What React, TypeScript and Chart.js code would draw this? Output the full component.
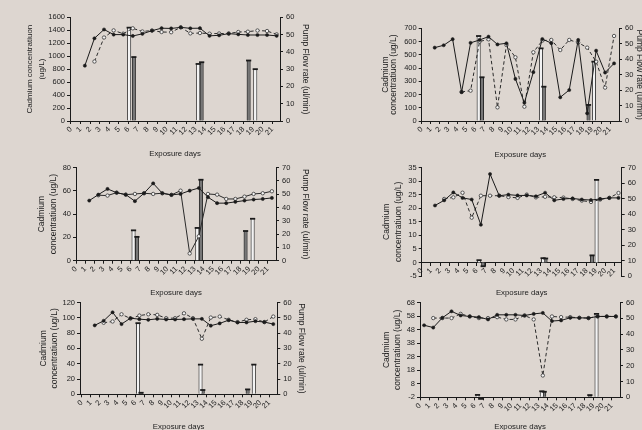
import React, { useEffect, useRef } from "react";
import { Chart, registerables } from "chart.js";
Chart.register(...registerables);

const FONT = "'Liberation Sans', Arial, Helvetica, sans-serif";
const INK = "#1a1a1a";
const TEXT = "#222222";
const BG = "rgb(221,214,208)";
const X_OFF = 0.45;

// ---------- shared labels / ticks ----------
const dayTicks = [0, 1, 2, 3, 4, 5, 6, 7, 8, 9, 10, 11, 12, 13, 14, 15, 16, 17, 18, 19, 20, 21];
const xTitle = "Exposure days";
const pumpTitle = "Pump Flow rate (ul/min)";
const cadTitleA = ["Cadmium concentratiuon", "(ug/L)"];
const cadTitleB = ["Cadmium", "concentratiuon (ug/L)"];

const p1LeftTicks = [0, 200, 400, 600, 800, 1000, 1200, 1400, 1600];
const p2LeftTicks = [0, 100, 200, 300, 400, 500, 600, 700];
const p3LeftTicks = [0, 10, 20, 30, 40, 50, 60, 70, 80];
const p4LeftTicks = [-5, 0, 5, 10, 15, 20, 25, 30, 35];
const p5LeftTicks = [0, 20, 40, 60, 80, 100, 120];
const p6LeftTicks = [-2, 8, 18, 28, 38, 48, 58, 68];
const flow60Ticks = [0, 10, 20, 30, 40, 50, 60];
const flow70Ticks = [0, 10, 20, 30, 40, 50, 60, 70];

// ---------- series (index = exposure day) ----------
const p1Solid = [null, 854, 1276, 1412, 1333, 1333, 1312, 1345, 1394, 1432, 1428, 1445, 1430, 1432, 1314, 1322, 1348, 1337, 1327, 1327, 1327, 1314];
const p1Dash = [null, null, 918, 1288, 1398, 1347, 1430, 1381, 1396, 1373, 1370, 1445, 1352, 1357, 1347, 1350, 1350, 1373, 1378, 1396, 1388, 1337];
const p1LightX = [6.07, 13.27, 19.22];
const p1LightY = [54, 33, 30];
const p1DarkX = [6.56, 13.63, 18.53];
const p1DarkY = [37, 34, 35];

const p2Solid = [null, 554, 572, 618, 218, 590, 612, 637, 578, 587, 318, 138, 369, 619, 588, 179, 234, 612, 58, 531, 366, 435];
const p2Dash = [null, null, null, null, 220, 229, 600, 617, 103, 574, 481, 108, 519, 607, 612, 536, 612, 592, 554, 448, 252, 642];
const p2LightX = [6.35, 13.3, 19.21];
const p2LightY = [55, 47, 38.4];
const p2DarkX = [6.72, 13.62, 18.6];
const p2DarkY = [28.3, 22.2, 10.4];

const p3Solid = [null, 51.6, 56.7, 61.6, 58.4, 56.7, 51.1, 57.9, 66.4, 57.9, 56.5, 57.3, 60.1, 62.4, 54.5, 49.4, 49.4, 50.5, 51.6, 52.5, 53.0, 53.9];
const p3Open = [null, null, 56.2, 55.9, 58.4, 56.7, 57.3, 57.9, 57.3, 57.9, 56.5, 60.1, 6.2, 21, 57.3, 56.7, 53.0, 53.0, 55.0, 57.3, 57.9, 59.6];
const p3LightX = [6.3, 13.28, 19.34];
const p3LightY = [22.8, 24.6, 31.5];
const p3DarkX = [6.67, 13.68, 18.57];
const p3DarkY = [17.9, 60.8, 22.3];

const p4Solid = [null, 21.0, 22.9, 25.8, 23.8, 23.2, 13.9, 32.6, 24.6, 25.0, 24.7, 24.7, 24.4, 25.7, 22.9, 23.4, 23.6, 23.2, 23.0, 23.4, 23.8, 23.8];
const p4Dash = [null, null, 23.4, 24.0, 25.7, 16.5, 24.6, 24.6, 24.6, 24.1, 23.8, 25.0, 24.0, 24.2, 24.0, 23.9, 23.4, 22.8, 22.3, 23.2, 23.8, 25.6];
const p4LightX = [6.25, 13.23, 19.06];
const p4LightY = [10.2, 11.5, 62];
const p4DarkX = [6.7, 13.5, 18.57];
const p4DarkY = [6.3, 11.3, 13.3];
const p4BarBase = 8.75;

const p5Solid = [null, 90.1, 96.1, 107.2, 91.8, 99.5, 98.2, 97.4, 98.6, 97.8, 97.8, 98.2, 98.6, 98.6, 89.7, 92.7, 96.9, 93.9, 93.9, 95.6, 94.4, 91.8];
const p5Dash = [null, null, 93.5, 95.2, 104.6, 99.0, 102.9, 104.6, 103.8, 99.5, 99.5, 105.9, 99.5, 72.6, 100.3, 101.6, 97.4, 94.4, 97.4, 98.2, 94.4, 101.6];
const p5LightX = [6.3, 13.3, 19.27];
const p5LightY = [46.5, 19.4, 19.4];
const p5DarkX = [6.64, 13.55, 18.58];
const p5DarkY = [1, 2.8, 3.2];

const p6Solid = [51.2, 49.5, 56.7, 61.5, 58.4, 57.7, 57.2, 55.5, 58.9, 58.9, 58.9, 58.4, 59.6, 60.3, 54.3, 54.8, 56.7, 56.7, 56.5, 57.7, 57.7, 57.7];
const p6Dash = [null, 56.5, 56.5, 56.5, 59.6, 57.7, 56.5, 56.5, 57.2, 55.5, 55.5, 58.4, 55.5, 14.1, 57.7, 57.2, 57.2, 56.7, 56.5, 57.7, 57.7, 57.7];
const p6LightX = [6.3, 13.34, 19.33];
const p6LightY = [1.5, 3.8, 52.8];
const p6DarkX = [6.65, 13.6, 18.6];
const p6DarkY = [-1, 3.5, 1.4];

type Spec = {
  left: number; top: number; w: number; h: number;
  pad: { left: number; right: number; top: number; bottom: number };
  wl: number; wr: number; hx: number;
  xMin: number; xMax: number; xOnZero?: boolean;
  yMin: number; yMax: number; yTicks: number[];
  y1Max: number; y1Ticks: number[];
  leftTitle: string[]; ltSize: number; ltLH: number; ltPad: number;
  rightTitle: boolean; rtPad: number;
  solid: (number | null)[]; second: (number | null)[]; secondDashed: boolean;
  lightX: number[]; lightY: number[]; darkX: number[]; darkY: number[];
  base?: number;
};

const specs: Spec[] = [
  {
    left: 0, top: 0, w: 321, h: 165, pad: { left: 0, right: 0, top: 17.3, bottom: 6.5 },
    wl: 70, wr: 41, hx: 37.5, xMin: -0.1, xMax: 21.8,
    yMin: 0, yMax: 1600, yTicks: p1LeftTicks, y1Max: 60, y1Ticks: flow60Ticks,
    leftTitle: cadTitleA, ltSize: 8, ltLH: 1.5, ltPad: 23.5, rightTitle: true, rtPad: 10.9,
    solid: p1Solid, second: p1Dash, secondDashed: true,
    lightX: p1LightX, lightY: p1LightY, darkX: p1DarkX, darkY: p1DarkY,
  },
  {
    left: 321, top: 0, w: 340, h: 165, pad: { left: 0, right: 0, top: 28.3, bottom: 5.5 },
    wl: 100.7, wr: 42, hx: 38.5, xMin: 0, xMax: 22,
    yMin: 0, yMax: 700, yTicks: p2LeftTicks, y1Max: 60, y1Ticks: flow60Ticks,
    leftTitle: cadTitleB, ltSize: 8.5, ltLH: 1.0, ltPad: 60.4, rightTitle: true, rtPad: 16.9,
    solid: p2Solid, second: p2Dash, secondDashed: true,
    lightX: p2LightX, lightY: p2LightY, darkX: p2DarkX, darkY: p2DarkY,
  },
  {
    left: 0, top: 160, w: 321, h: 140, pad: { left: 0, right: 0, top: 6.7, bottom: 2.5 },
    wl: 76, wr: 45, hx: 36.8, xMin: 0, xMax: 21.9,
    yMin: 0, yMax: 80, yTicks: p3LeftTicks, y1Max: 70, y1Ticks: flow70Ticks,
    leftTitle: cadTitleB, ltSize: 8.5, ltLH: 1.365, ltPad: 35.9, rightTitle: true, rtPad: 10.9,
    solid: p3Solid, second: p3Open, secondDashed: false,
    lightX: p3LightX, lightY: p3LightY, darkX: p3DarkX, darkY: p3DarkY,
  },
  {
    left: 321, top: 160, w: 340, h: 140, pad: { left: 0, right: 0, top: 5.7, bottom: 24 },
    wl: 100.7, wr: 39.3, hx: 35.2, xMin: 0, xMax: 21.8, xOnZero: true,
    yMin: -5, yMax: 35, yTicks: p4LeftTicks, y1Max: 70, y1Ticks: flow70Ticks,
    leftTitle: cadTitleB, ltSize: 8.5, ltLH: 1.365, ltPad: 59.9, rightTitle: false, rtPad: 0,
    solid: p4Solid, second: p4Dash, secondDashed: true,
    lightX: p4LightX, lightY: p4LightY, darkX: p4DarkX, darkY: p4DarkY, base: p4BarBase,
  },
  {
    left: 0, top: 295, w: 321, h: 140, pad: { left: 0, right: 0, top: 5.7, bottom: 3.5 },
    wl: 80, wr: 43.7, hx: 37.2, xMin: -0.2, xMax: 21.9,
    yMin: 0, yMax: 120, yTicks: p5LeftTicks, y1Max: 60, y1Ticks: flow60Ticks,
    leftTitle: cadTitleB, ltSize: 8.5, ltLH: 1.29, ltPad: 37.8, rightTitle: true, rtPad: 14.2,
    solid: p5Solid, second: p5Dash, secondDashed: true,
    lightX: p5LightX, lightY: p5LightY, darkX: p5DarkX, darkY: p5DarkY,
  },
  {
    left: 321, top: 295, w: 340, h: 140, pad: { left: 0, right: 0, top: 5, bottom: 3.8 },
    wl: 99, wr: 41, hx: 33.9, xMin: 0, xMax: 21.9,
    yMin: -2, yMax: 68, yTicks: p6LeftTicks, y1Max: 60, y1Ticks: flow60Ticks,
    leftTitle: cadTitleB, ltSize: 8.5, ltLH: 1.25, ltPad: 60.4, rightTitle: false, rtPad: 0,
    solid: p6Solid, second: p6Dash, secondDashed: true,
    lightX: p6LightX, lightY: p6LightY, darkX: p6DarkX, darkY: p6DarkY,
  },
];

function toPts(vals: (number | null)[]) {
  const out: { x: number; y: number }[] = [];
  vals.forEach((v, i) => {
    if (v !== null) out.push({ x: i + X_OFF, y: v });
  });
  return out;
}

function xy(xs: number[], ys: number[]) {
  return xs.map((x, i) => ({ x, y: ys[i] }));
}

function lineDs(vals: (number | null)[], dashed: boolean, open: boolean) {
  return {
    type: "line",
    data: toPts(vals),
    xAxisID: "x",
    yAxisID: "y",
    borderColor: open ? "#2a2a2a" : INK,
    borderWidth: 1,
    borderDash: dashed ? [3.5, 2.5] : [],
    pointRadius: open ? 1.7 : 1.6,
    pointBackgroundColor: open ? "#f4f4f4" : INK,
    pointBorderColor: open ? "#333333" : INK,
    pointBorderWidth: open ? 0.8 : 0.5,
    tension: 0,
    fill: false,
    order: 0,
    clip: false,
  };
}

function barDs(xs: number[], ys: number[], light: boolean, base?: number) {
  const ds: any = {
    type: "bar",
    data: xy(xs, ys),
    xAxisID: "x",
    yAxisID: "y1",
    stack: "bars",
    backgroundColor: light ? "#f3f3f3" : "#777777",
    borderColor: INK,
    borderWidth: { top: 0, left: 0.8, right: 0.8, bottom: 0 },
    borderSkipped: "start",
    barThickness: 3.4,
    order: 3,
    clip: false,
  };
  if (base !== undefined) ds.base = base;
  return ds;
}

function capDs(xs: number[], ys: number[]) {
  return {
    type: "line",
    data: xy(xs, ys),
    xAxisID: "x",
    yAxisID: "y1",
    showLine: false,
    pointStyle: "line",
    pointRadius: 2.6,
    pointBorderWidth: 1.8,
    pointBorderColor: INK,
    pointBackgroundColor: INK,
    order: 2,
    clip: false,
  };
}

function buildConfig(s: Spec): any {
  const tickFont = { family: FONT, size: 7.5 };
  return {
    type: "bar",
    data: {
      datasets: [
        lineDs(s.solid, false, false),
        lineDs(s.second, s.secondDashed, true),
        barDs(s.lightX, s.lightY, true, s.base),
        barDs(s.darkX, s.darkY, false, s.base),
        capDs(s.lightX, s.lightY),
        capDs(s.darkX, s.darkY),
      ],
    },
    options: {
      animation: false,
      responsive: false,
      devicePixelRatio: 1,
      events: [],
      layout: { padding: s.pad },
      plugins: { legend: { display: false }, tooltip: { enabled: false } },
      scales: {
        x: {
          type: "linear",
          min: s.xMin,
          max: s.xMax,
          offset: false,
          position: s.xOnZero ? { y: 0 } : "bottom",
          afterBuildTicks: (sc: any) => {
            sc.ticks = dayTicks.map((v) => ({ value: v }));
          },
          afterFit: (sc: any) => {
            sc.height = s.hx;
          },
          grid: { offset: false, drawOnChartArea: false, drawTicks: true, tickLength: 3, color: INK, lineWidth: 1 },
          border: { display: true, color: INK, width: 1 },
          ticks: {
            autoSkip: false,
            minRotation: 45,
            maxRotation: 45,
            padding: 1,
            font: tickFont,
            color: TEXT,
            callback: (v: any) => String(v),
          },
          title: { display: true, text: xTitle, font: { family: FONT, size: 7.8 }, color: TEXT, padding: 0 },
        },
        y: {
          type: "linear",
          position: "left",
          min: s.yMin,
          max: s.yMax,
          afterBuildTicks: (sc: any) => {
            sc.ticks = s.yTicks.map((v) => ({ value: v }));
          },
          afterFit: (sc: any) => {
            sc.width = s.wl;
          },
          grid: { drawOnChartArea: false, drawTicks: true, tickLength: 3, color: INK, lineWidth: 1 },
          border: { display: true, color: INK, width: 1 },
          ticks: { padding: 2, font: tickFont, color: TEXT, callback: (v: any) => String(v) },
          title: {
            display: true,
            text: s.leftTitle,
            font: { family: FONT, size: s.ltSize, lineHeight: s.ltLH },
            color: TEXT,
            padding: { top: s.ltPad, bottom: 0 },
          },
        },
        y1: {
          type: "linear",
          position: "right",
          min: 0,
          max: s.y1Max,
          stacked: false,
          afterBuildTicks: (sc: any) => {
            sc.ticks = s.y1Ticks.map((v) => ({ value: v }));
          },
          afterFit: (sc: any) => {
            sc.width = s.wr;
          },
          grid: { drawOnChartArea: false, drawTicks: true, tickLength: 3, color: INK, lineWidth: 1 },
          border: { display: true, color: INK, width: 1 },
          ticks: { padding: 3, font: tickFont, color: TEXT, callback: (v: any) => String(v) },
          title: {
            display: s.rightTitle,
            text: pumpTitle,
            font: { family: FONT, size: 8.5, lineHeight: 1.2 },
            color: TEXT,
            padding: { top: s.rtPad, bottom: 0 },
          },
        },
      },
    },
  };
}

function Panel({ spec }: { spec: Spec }) {
  const ref = useRef<HTMLCanvasElement>(null);
  useEffect(() => {
    if (!ref.current) return;
    const chart = new Chart(ref.current, buildConfig(spec));
    return () => chart.destroy();
  }, [spec]);
  return (
    <canvas
      ref={ref}
      width={spec.w}
      height={spec.h}
      style={{ position: "absolute", left: spec.left, top: spec.top, width: spec.w, height: spec.h }}
    />
  );
}

export default function App() {
  return (
    <div
      style={{
        position: "absolute",
        left: 0,
        top: 0,
        width: 642,
        height: 430,
        overflow: "hidden",
        background: BG,
      }}
    >
      {specs.map((s, i) => (
        <Panel key={i} spec={s} />
      ))}
    </div>
  );
}
